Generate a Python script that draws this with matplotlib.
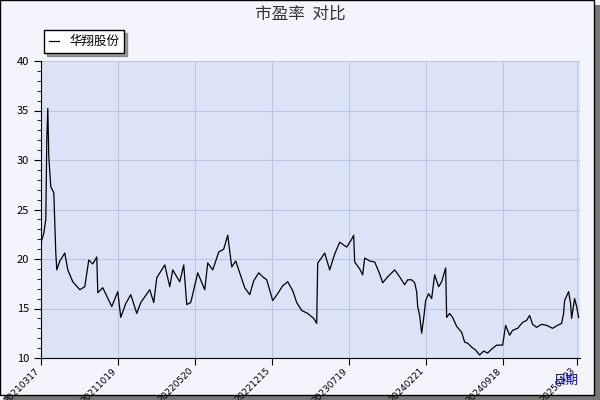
import matplotlib
matplotlib.use("Agg")
import matplotlib.pyplot as plt
from matplotlib.patches import Rectangle

plt.rcParams['font.family'] = ['Noto Sans CJK SC', 'DejaVu Sans']

px = [41,44,46,47,48,49,51,54,56,57,60,65,68,73,80,85,89,93,97,98,103,112,118,121,126,131,137,141,150,154,157,165,170,173,180,184,187,191,198,205,208,213,219,224,228,232,236,240,245,250,254,259,263,267,273,278,283,288,293,297,302,308,314,317,318,321,325,330,335,340,347,352,354,355,360,363,365,370,375,380,383,388,395,400,405,408,412,415,417,418,420,422,424,426,429,432,435,439,442,446,447,450,453,457,462,465,468,472,476,480,484,488,492,497,503,506,510,513,518,523,527,530,533,537,542,547,553,558,562,564,565,569,571,572,575,577,579]
pe = [21.6,22.6,24,32,35.2,30.3,27.3,26.7,20.6,18.9,19.8,20.6,18.9,17.7,16.9,17.2,19.9,19.5,20.2,16.6,17.1,15.2,16.7,14.1,15.5,16.4,14.5,15.6,16.9,15.6,18.1,19.4,17.2,18.9,17.7,19.4,15.4,15.6,18.6,16.9,19.6,18.9,20.7,21,22.4,19.2,19.8,18.6,17.1,16.4,17.8,18.6,18.2,17.9,15.8,16.5,17.3,17.7,16.8,15.6,14.8,14.5,14,13.5,19.6,20,20.6,18.9,20.5,21.7,21.2,22,22.4,19.7,19,18.4,20.1,19.8,19.7,18.5,17.6,18.2,18.9,18.2,17.4,17.9,17.9,17.6,16.7,15.2,14.3,12.5,14,15.8,16.5,16.0,18.4,17.2,17.7,19.1,14.1,14.5,14.1,13.2,12.6,11.6,11.5,11.1,10.8,10.3,10.7,10.5,10.9,11.3,11.3,13.3,12.3,12.8,13,13.6,13.8,14.3,13.4,13.1,13.4,13.3,13.0,13.3,13.5,14.5,15.8,16.7,15.5,14.0,16.0,15.2,14.1]
days = [2*(p-41) for p in px]
tick_pos = [0,154,308,462,616,770,924,1072]
tick_labels = ['20210317','20211019','20220520','20221215','20230719','20240221','20240918','20250423']

fig = plt.figure(figsize=(6,4), dpi=100, facecolor='#f3f4fc')
ax = fig.add_axes([0.068, 0.105, 0.898, 0.7425], facecolor='#dce3f7')
ax.plot(days, pe, color='black', lw=0.9, label='华翔股份')
ax.set_xlim(0, 1078)
ax.set_ylim(10, 40)
ax.set_yticks(range(10, 41, 5))
ax.set_yticks(range(10, 41, 1), minor=True)
ax.set_xticks(tick_pos)
ax.set_xticklabels(tick_labels, rotation=45, ha='right', fontsize=6.5, family=['DejaVu Sans'])
ax.tick_params(axis='y', labelsize=8, length=5, direction='out')
ax.tick_params(axis='y', which='minor', length=3)
ax.tick_params(axis='x', length=5, pad=1)
ax.grid(True, color='#b8c6e8', lw=0.8)
for s in ['top', 'right']:
    ax.spines[s].set_visible(False)
leg = ax.legend(loc='upper left', bbox_to_anchor=(-0.005, 1.125), fontsize=9, frameon=True,
                fancybox=False, shadow=True, edgecolor='black', handlelength=0.8, borderpad=0.4)
fig.text(0.5, 0.965, '市盈率  对比', ha='center', va='center', fontsize=12, color='#333333')
fig.text(0.965, 0.05, '日期', ha='right', va='center', fontsize=9, color='#0000cc')
fig.patches.append(Rectangle((0.006, 0.0), 0.994, 0.988, transform=fig.transFigure, facecolor='#777777', edgecolor='none', zorder=-2))
fig.patches.append(Rectangle((0.0, 0.012), 0.99, 0.988, transform=fig.transFigure, facecolor='#f3f4fc', edgecolor='black', lw=1, zorder=-1))
fig.savefig('out.png', dpi=100, facecolor=fig.get_facecolor())
